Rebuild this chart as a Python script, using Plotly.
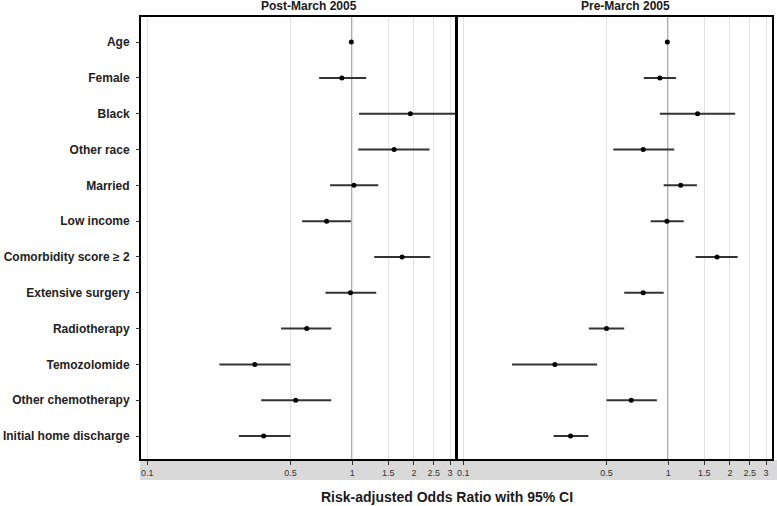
import plotly.graph_objects as go

categories = ["Age", "Female", "Black", "Other race", "Married", "Low income",
              "Comorbidity score \u2265 2", "Extensive surgery", "Radiotherapy",
              "Temozolomide", "Other chemotherapy", "Initial home discharge"]

post_or = [0.99, 0.89, 1.92, 1.60, 1.02, 0.75, 1.75, 0.98, 0.60, 0.335, 0.53, 0.37]
post_lo = [0.98, 0.69, 1.08, 1.07, 0.78, 0.57, 1.28, 0.74, 0.45, 0.225, 0.36, 0.28]
post_hi = [1.00, 1.17, 3.60, 2.38, 1.34, 0.985, 2.40, 1.31, 0.79, 0.50, 0.79, 0.50]

pre_or = [0.99, 0.91, 1.39, 0.755, 1.15, 0.985, 1.73, 0.755, 0.50, 0.28, 0.66, 0.334]
pre_lo = [0.98, 0.76, 0.91, 0.54, 0.95, 0.82, 1.36, 0.61, 0.41, 0.173, 0.50, 0.276]
pre_hi = [1.00, 1.09, 2.12, 1.07, 1.38, 1.19, 2.18, 0.95, 0.61, 0.45, 0.88, 0.408]

tick_vals = [0.1, 0.5, 1, 1.5, 2, 2.5, 3]
tick_text = ["0.1", "0.5", "1", "1.5", "2", "2.5", "3"]
panel_titles = ["Post-March 2005", "Pre-March 2005"]
x_title = "Risk-adjusted Odds Ratio with 95% CI"

FONT = "Liberation Sans, Arial, sans-serif"

fig = go.Figure()


def seg(lo, hi, cats):
    xs, ys = [], []
    for a, b, c in zip(lo, hi, cats):
        xs += [a, b, None]
        ys += [c, c, None]
    return xs, ys


for i, (orv, lo, hi) in enumerate([(post_or, post_lo, post_hi), (pre_or, pre_lo, pre_hi)]):
    xa = "x" if i == 0 else "x2"
    ya = "y" if i == 0 else "y2"
    xs, ys = seg(lo, hi, categories)
    fig.add_trace(go.Scatter(x=xs, y=ys, mode="lines", xaxis=xa, yaxis=ya,
                             line=dict(color="#333333", width=2), showlegend=False,
                             hoverinfo="skip"))
    fig.add_trace(go.Scatter(x=orv, y=categories, mode="markers", xaxis=xa, yaxis=ya,
                             marker=dict(color="black", size=5), showlegend=False))
    fig.add_shape(type="line", xref=xa, yref=ya + " domain", x0=1, x1=1, y0=0, y1=1,
                  line=dict(color="#707070", width=1.6), layer="below")

xr = [-1.03, 0.506]
yr = [11.64, -0.70]
common_x = dict(type="log", range=xr, tickvals=tick_vals, ticktext=tick_text,
                showgrid=True, gridcolor="#e3e3e3", gridwidth=1,
                showline=True, mirror=True, linecolor="black", linewidth=2,
                ticks="outside", ticklen=4, tickcolor="#333333", tickwidth=1,
                tickfont=dict(family=FONT, size=9, color="#333333"), zeroline=False)
common_y = dict(type="category", categoryarray=categories, range=yr,
                showgrid=False, showline=True, mirror=True, linecolor="black",
                linewidth=2, zeroline=False)

fig.update_layout(
    width=777, height=506,
    margin=dict(l=0, r=0, t=0, b=0),
    paper_bgcolor="white", plot_bgcolor="white",
    xaxis=dict(domain=[141 / 777, 456 / 777], anchor="y", **common_x),
    xaxis2=dict(domain=[457 / 777, 772 / 777], anchor="y2", **common_x),
    yaxis=dict(domain=[47 / 506, 489 / 506], anchor="x", ticks="outside", ticklen=3,
               tickcolor="#333333", ticklabelstandoff=4,
               tickfont=dict(family=FONT, size=12, color="#222222", weight="bold"),
               **common_y),
    yaxis2=dict(domain=[47 / 506, 489 / 506], anchor="x2", showticklabels=False,
                **common_y),
    font=dict(family=FONT),
)

# gray band behind x tick labels
fig.add_shape(type="rect", xref="paper", yref="paper", x0=140 / 777, x1=1,
              y0=(506 - 480) / 506, y1=(506 - 460) / 506,
              fillcolor="#d9d9d9", line=dict(width=0), layer="below")

fig.add_annotation(text=panel_titles[0], xref="paper", yref="paper",
                   x=308.7 / 777, y=(506 - 6) / 506, showarrow=False,
                   xanchor="center", yanchor="middle",
                   font=dict(family=FONT, size=12, color="#1a1a1a", weight="bold"))
fig.add_annotation(text=panel_titles[1], xref="paper", yref="paper",
                   x=625.5 / 777, y=(506 - 6) / 506, showarrow=False,
                   xanchor="center", yanchor="middle",
                   font=dict(family=FONT, size=12, color="#1a1a1a", weight="bold"))
fig.add_annotation(text=x_title, xref="paper", yref="paper",
                   x=446.5 / 777, y=(506 - 497) / 506, showarrow=False,
                   xanchor="center", yanchor="middle",
                   font=dict(family=FONT, size=14, color="#1a1a1a", weight="bold"))

fig.write_html("out.html", config={"displayModeBar": False},
               post_script="document.body.style.margin='0';document.body.style.padding='0';document.body.style.overflow='hidden';")
